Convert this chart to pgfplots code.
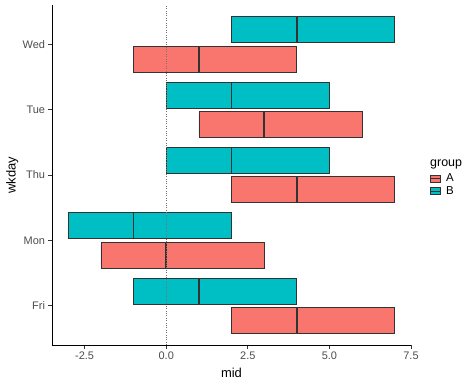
\documentclass[border=0pt]{standalone}
\usepackage{fontspec}
\setmainfont{Liberation Sans}
\usepackage{pgfplots}
\pgfplotsset{compat=1.18}
\usepgfplotslibrary{statistics}
\definecolor{cA}{HTML}{F8766D}
\definecolor{cB}{HTML}{00BFC4}
\definecolor{g30}{HTML}{4D4D4D}
\definecolor{g20}{HTML}{333333}
\begin{document}
\begin{tikzpicture}
\useasboundingbox (-52bp,-42bp) rectangle (422bp,345bp);
\begin{axis}[
 at={(0,0)}, anchor=south west, scale only axis, clip=false,
 width=359bp, height=340bp,
 xmin=-3.5, xmax=7.5, ymin=0.4, ymax=5.6,
 axis lines*=left,
 axis line style={black, line width=0.7bp},
 tick align=outside, major tick length=3.5bp,
 tick style={g20, line width=0.7bp},
 xtick={-2.5,0,2.5,5,7.5}, xticklabels={-2.5,0.0,2.5,5.0,7.5},
 ytick={1,2,3,4,5}, yticklabels={Fri,Mon,Thu,Tue,Wed},
 ticklabel style={font=\fontsize{11}{13}\selectfont, text=g30},
 xlabel={mid}, ylabel={wkday},
 label style={font=\fontsize{13}{15}\selectfont},
 xlabel style={at={(axis description cs:0.5,-0.082)}, anchor=center},
 ylabel style={at={(axis description cs:-0.111,0.5)}, anchor=center},
 boxplot/draw direction=x,
 boxplot/every median/.style={g20, line width=1.6bp},
 legend image code/.code={\draw[#1] (0bp,-3.5bp) rectangle (10bp,3.5bp); \draw[g20, line width=1bp] (0bp,0bp) -- (10bp,0bp);},
 legend style={at={(axis description cs:1.053,0.508)}, anchor=north west, draw=none, fill=none, inner sep=0pt, row sep=0pt, column sep=3.5bp, nodes={inner sep=1.5bp, font=\fontsize{11.5}{13}\selectfont}},
 legend cell align=left,
]
\addlegendimage{fill=cA, draw=g20, line width=0.5bp}
\addlegendentry{\fontsize{11.5}{13}\selectfont A}
\addlegendimage{fill=cB, draw=g20, line width=0.5bp}
\addlegendentry{\fontsize{11.5}{13}\selectfont B}
% Fri (1)
\addplot[forget plot, fill=cA, draw=g20, line width=0.6bp, boxplot prepared={draw position=0.775, lower whisker=2, lower quartile=2, median=4, upper quartile=7, upper whisker=7, box extend=0.4}] coordinates {};
\addplot[forget plot, fill=cB, draw=g20, line width=0.6bp, boxplot prepared={draw position=1.225, lower whisker=-1, lower quartile=-1, median=1, upper quartile=4, upper whisker=4, box extend=0.4}] coordinates {};
% Mon (2)
\addplot[forget plot, fill=cA, draw=g20, line width=0.6bp, boxplot prepared={draw position=1.775, lower whisker=-2, lower quartile=-2, median=0, upper quartile=3, upper whisker=3, box extend=0.4}] coordinates {};
\addplot[forget plot, fill=cB, draw=g20, line width=0.6bp, boxplot prepared={draw position=2.225, lower whisker=-3, lower quartile=-3, median=-1, upper quartile=2, upper whisker=2, box extend=0.4}] coordinates {};
% Thu (3)
\addplot[forget plot, fill=cA, draw=g20, line width=0.6bp, boxplot prepared={draw position=2.775, lower whisker=2, lower quartile=2, median=4, upper quartile=7, upper whisker=7, box extend=0.4}] coordinates {};
\addplot[forget plot, fill=cB, draw=g20, line width=0.6bp, boxplot prepared={draw position=3.225, lower whisker=0, lower quartile=0, median=2, upper quartile=5, upper whisker=5, box extend=0.4}] coordinates {};
% Tue (4)
\addplot[forget plot, fill=cA, draw=g20, line width=0.6bp, boxplot prepared={draw position=3.775, lower whisker=1, lower quartile=1, median=3, upper quartile=6, upper whisker=6, box extend=0.4}] coordinates {};
\addplot[forget plot, fill=cB, draw=g20, line width=0.6bp, boxplot prepared={draw position=4.225, lower whisker=0, lower quartile=0, median=2, upper quartile=5, upper whisker=5, box extend=0.4}] coordinates {};
% Wed (5)
\addplot[forget plot, fill=cA, draw=g20, line width=0.6bp, boxplot prepared={draw position=4.775, lower whisker=-1, lower quartile=-1, median=1, upper quartile=4, upper whisker=4, box extend=0.4}] coordinates {};
\addplot[forget plot, fill=cB, draw=g20, line width=0.6bp, boxplot prepared={draw position=5.225, lower whisker=2, lower quartile=2, median=4, upper quartile=7, upper whisker=7, box extend=0.4}] coordinates {};
% vertical reference line at 0
\addplot[forget plot, color=black!55, line width=0.6bp, dash pattern=on 0.8bp off 1.6bp] coordinates {(0,0.4) (0,5.6)};
\node[anchor=west, font=\fontsize{12.5}{14}\selectfont, inner sep=0pt] at (axis description cs:1.053,0.53) {group};
\end{axis}
\end{tikzpicture}
\end{document}
